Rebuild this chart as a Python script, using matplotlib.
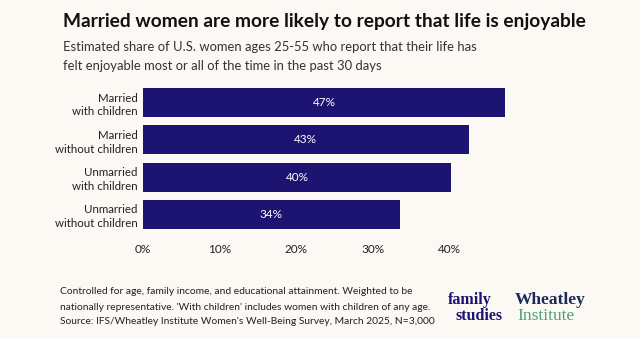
import matplotlib.pyplot as plt

# данные
categories = ["Married\nwith children", "Married\nwithout children",
              "Unmarried\nwith children", "Unmarried\nwithout children"]
values = [47.2, 42.5, 40.2, 33.5]
value_labels = ["47%", "43%", "40%", "34%"]
ticks = [0, 10, 20, 30, 40]
tick_labels = ["0%", "10%", "20%", "30%", "40%"]

bg = "#FCF8F3"
navy = "#1C1470"
text_col = "#222222"

plt.rcParams["font.family"] = ["Lato", "DejaVu Sans"]

fig = plt.figure(figsize=(6.4, 3.39), dpi=100, facecolor=bg)
ax = fig.add_axes([143 / 640, 1 - 233 / 339, 368 / 640, (233 - 84) / 339])
ax.set_facecolor(bg)

y = list(range(len(categories)))
ax.barh(y, values, height=0.78, color=navy)
for yi, v, lab in zip(y, values, value_labels):
    ax.text(v / 2, yi, lab, ha="center", va="center", color="white", fontsize=8.5)

ax.set_yticks(y)
ax.set_yticklabels(categories, fontsize=8.3, color=text_col, linespacing=1.3)
ax.set_xticks(ticks)
ax.set_xticklabels(tick_labels, fontsize=8.5, color=text_col)
ax.set_xlim(0, 48)
ax.set_ylim(3.5, -0.5)
ax.tick_params(length=0, pad=4)
ax.tick_params(axis="x", pad=8)
for s in ax.spines.values():
    s.set_visible(False)

# заголовки
fig.text(63 / 640, 1 - 22 / 339, "Married women are more likely to report that life is enjoyable",
         fontsize=13.8, fontweight="bold", color="#111111", va="center")
fig.text(63 / 640, 1 - 47 / 339, "Estimated share of U.S. women ages 25-55 who report that their life has",
         fontsize=9.4, color="#333333", va="center")
fig.text(63 / 640, 1 - 66 / 339, "felt enjoyable most or all of the time in the past 30 days",
         fontsize=9.4, color="#333333", va="center")

# сноска
notes = ["Controlled for age, family income, and educational attainment. Weighted to be",
         "nationally representative. 'With children' includes women with children of any age.",
         "Source: IFS/Wheatley Institute Women's Well-Being Survey, March 2025, N=3,000"]
for i, line in enumerate(notes):
    fig.text(60 / 640, 1 - (292 + 15 * i) / 339, line, fontsize=7.4, color=text_col, va="center")

# логотипы
fig.text(448 / 640, 1 - 300 / 339, "family", fontsize=11.5, fontweight="bold", color=navy,
         family="Liberation Serif", va="center")
fig.text(455 / 640, 1 - 316 / 339, "studies", fontsize=11.5, fontweight="bold", color=navy,
         family="Liberation Serif", va="center")
fig.text(515 / 640, 1 - 300 / 339, "Wheatley", fontsize=12.5, fontweight="bold", color="#1A2A5A",
         family="Liberation Serif", va="center")
fig.text(517 / 640, 1 - 316 / 339, "Institute", fontsize=12.5, color="#4A9E7A",
         family="Liberation Serif", va="center")

fig.savefig("out.png", dpi=100, facecolor=bg)
